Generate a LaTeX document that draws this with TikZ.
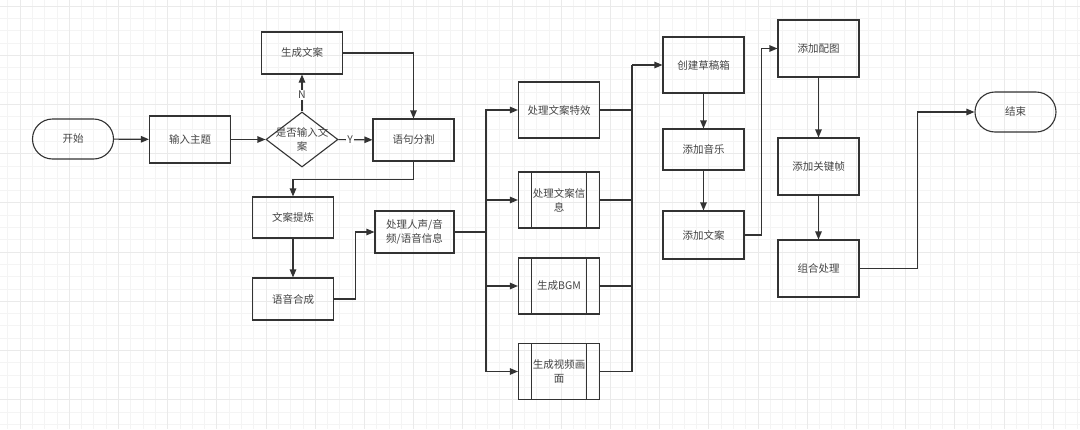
\documentclass[tikz,border=0pt]{standalone}
\usepackage{fontspec}
\newfontfamily\cjk{Noto Sans CJK SC}
\usetikzlibrary{arrows.meta,shapes.geometric}
\definecolor{ink}{HTML}{333333}
\definecolor{words}{HTML}{444444}
\definecolor{gridmajor}{HTML}{EAEAEA}
\definecolor{gridminor}{HTML}{F4F4F4}
\begin{document}
\begin{tikzpicture}[x=1pt, y=-1pt,
  box/.style={draw=ink, line width=1.1pt, text=words, font=\cjk\fontsize{10.5}{14}\selectfont, align=center, minimum width=81pt, inner sep=0pt},
  term/.style={box, rounded corners=20pt, minimum height=40pt},
  sub/.style={box, path picture={\draw[ink, line width=1.1pt] ([xshift=13pt]path picture bounding box.north west) -- ([xshift=13pt]path picture bounding box.south west) ([xshift=-13pt]path picture bounding box.north east) -- ([xshift=-13pt]path picture bounding box.south east);}},
  ask/.style={draw=ink, line width=1.1pt, diamond, minimum width=72pt, minimum height=55pt, inner sep=0pt},
  arr/.style={draw=ink, line width=1.1pt, -{Triangle[length=8pt,width=6.5pt]}},
  link/.style={draw=ink, line width=1.1pt},
  tag/.style={fill=white, text=words, font=\cjk\fontsize{10.5}{12}\selectfont, inner sep=1pt}]
\useasboundingbox (0,0) rectangle (1080,429);
\fill[white] (0,0) rectangle (1080,429);
\foreach \x in {7.7,20,...,1080} \draw[gridminor, line width=0.8pt] (\x,0) -- (\x,429);
\foreach \y in {6,18.3,...,429} \draw[gridminor, line width=0.8pt] (0,\y) -- (1080,\y);
\foreach \x in {20,69.2,...,1080} \draw[gridmajor, line width=1pt] (\x,0) -- (\x,429);
\foreach \y in {6,55.2,...,429} \draw[gridmajor, line width=1pt] (0,\y) -- (1080,\y);

\node[term] (start) at (73,139) {开始};
\node[box, minimum height=47pt] (topic) at (190,139.5) {输入主题};
\node[ask, label={[text=words, font=\cjk\fontsize{10.5}{13.5}\selectfont, align=center]center:{是否输入文\\案}}] (given) at (302,139.5) {};
\node[box, minimum height=42pt] (gen) at (302,53) {生成文案};
\node[box, minimum height=42pt] (split) at (413.5,140) {语句分割};
\node[box, minimum height=41pt] (refine) at (293,217.5) {文案提炼};
\node[box, minimum height=42pt] (tts) at (293,299) {语音合成};
\node[box, minimum width=79pt, minimum height=42pt] (voice) at (414.5,232) {处理人声/音\\频/语音信息};
\node[box, minimum height=56pt] (fx) at (559,110) {处理文案特效};
\node[sub, minimum height=56pt] (info) at (559,200) {处理文案信\\息};
\node[sub, minimum height=56pt] (bgm) at (559,286) {生成BGM};
\node[sub, minimum height=56pt] (video) at (559,371.5) {生成视频画\\面};
\node[box, minimum height=56pt] (draft) at (703.5,65) {创建草稿箱};
\node[box, minimum height=41pt] (music) at (703.5,149.5) {添加音乐};
\node[box, minimum height=48pt] (addtext) at (703.5,235) {添加文案};
\node[box, minimum height=57pt] (pic) at (818.5,48.5) {添加配图};
\node[box, minimum height=57pt] (keyframe) at (818.5,166.5) {添加关键帧};
\node[box, minimum height=57pt] (combo) at (818.5,268.5) {组合处理};
\node[term] (finish) at (1015.5,112) {结束};

\coordinate (fan) at (486,232);
\coordinate (merge) at (632,65);

\draw[arr] (start) -- (topic);
\draw[arr] (topic) -- (given);
\draw[arr] (given) -- (gen) node[tag, pos=0.45] {N};
\draw[arr] (given) -- (split) node[tag, pos=0.35] {Y};
\draw[arr] (gen) -| (split);
\draw[arr] (split.south) -- ++(0,18) -| (refine.north);
\draw[arr] (refine) -- (tts);
\draw[arr] (tts.east) -- ++(21,0) |- (voice.west);
\draw[link] (voice.east) -- (fan);
\foreach \n in {fx,info,bgm,video} {
  \draw[arr] (fan) |- (\n.west);
  \draw[link] (\n.east) -| (merge);
}
\draw[arr] (merge) -- (draft.west);
\draw[arr] (draft) -- (music);
\draw[arr] (music) -- (addtext);
\draw[arr] (addtext.east) -- ++(17,0) |- (pic.west);
\draw[arr] (pic) -- (keyframe);
\draw[arr] (keyframe) -- (combo);
\draw[arr] (combo.east) -- ++(58,0) |- (finish.west);
\end{tikzpicture}
\end{document}
